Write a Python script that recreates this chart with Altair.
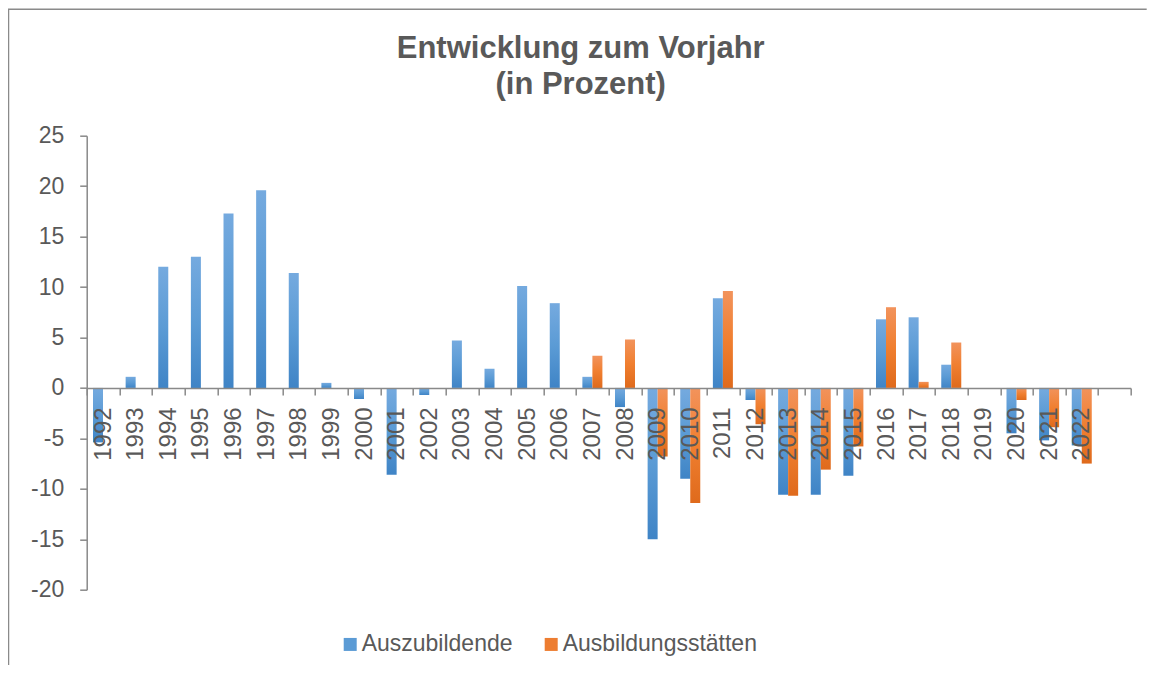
import altair as alt
import pandas as pd

years = [str(y) for y in range(1992, 2023)]
auszubildende = [-5.4, 1.1, 12.0, 13.0, 17.3, 19.6, 11.4, 0.5, -1.1, -8.6,
                 -0.7, 4.7, 1.9, 10.1, 8.4, 1.1, -1.9, -15.0, -9.0, 8.9,
                 -1.2, -10.6, -10.6, -8.7, 6.8, 7.0, 2.3, None, -4.5, -5.2, -5.7]
ausbildungsstaetten = [None] * 15 + [3.2, 4.8, -6.8, -11.4, 9.6,
                                     -3.6, -10.7, -8.1, -5.8, 8.0, 0.6, 4.5, None, -1.2, -3.9, -7.5]
series_names = ["Auszubildende", "Ausbildungsstätten"]
y_ticks = [-20, -15, -10, -5, 0, 5, 10, 15, 20, 25]

rows = []
for name, vals in zip(series_names, [auszubildende, ausbildungsstaetten]):
    for yr, v in zip(years, vals):
        if v is not None:
            rows.append({"Jahr": yr, "Reihe": name, "Wert": v})
df = pd.DataFrame(rows)

x_domain = years + [" "]
grad_blue = {"gradient": "linear", "x1": 0, "y1": 0, "x2": 0, "y2": 1,
             "stops": [{"offset": 0, "color": "#75AADF"}, {"offset": 0.5, "color": "#5B9BD5"},
                       {"offset": 1, "color": "#3F84C6"}]}
grad_orange = {"gradient": "linear", "x1": 0, "y1": 0, "x2": 0, "y2": 1,
               "stops": [{"offset": 0, "color": "#F2935C"}, {"offset": 0.5, "color": "#F07F30"},
                         {"offset": 1, "color": "#DF6A1C"}]}

axis_grey = "#898989"
text_grey = "#595959"
H = 454

x_enc = alt.X("Jahr:N", scale=alt.Scale(domain=x_domain, paddingInner=0, paddingOuter=0),
              axis=alt.Axis(title=None, orient="bottom", offset=-H * 20 / 45,
                            labelAngle=270, labelAlign="right", labelBaseline="middle",
                            labelPadding=12, labelFontSize=24, labelColor=text_grey,
                            tickBand="extent", tickSize=7, tickColor=axis_grey, tickWidth=1.5,
                            domainColor=axis_grey, domainWidth=1.5, zindex=1, labelOverlap=False))
xoff_enc = alt.XOffset("Reihe:N", scale=alt.Scale(domain=series_names, paddingOuter=0.63, paddingInner=0))
y_enc = alt.Y("Wert:Q", scale=alt.Scale(domain=[-20, 25], nice=False, zero=False),
              axis=alt.Axis(title=None, values=y_ticks, grid=False, tickSize=7, tickColor=axis_grey,
                            tickWidth=1.5, domainColor=axis_grey, domainWidth=1.5,
                            labelExpr="'' + datum.value",
                            labelFontSize=23, labelColor=text_grey, labelPadding=16))

bars = alt.Chart(df).mark_bar().encode(
    x=x_enc, xOffset=xoff_enc, y=y_enc,
    fill=alt.condition(alt.datum.Reihe == "Auszubildende", alt.value(grad_blue), alt.value(grad_orange)),
)

legend_layer = alt.Chart(df).mark_square(opacity=0).encode(
    x=alt.X("Jahr:N"), xOffset=alt.XOffset("Reihe:N"), y=alt.Y("Wert:Q"),
    color=alt.Color("Reihe:N", scale=alt.Scale(domain=series_names, range=["#5B9BD5", "#ED7D31"]),
                    legend=alt.Legend(title=None, orient="none", direction="horizontal",
                                      legendX=252, legendY=497, symbolType="square",
                                      symbolSize=169, symbolOpacity=1, symbolStrokeWidth=0,
                                      labelFontSize=23, labelColor=text_grey, labelOffset=0,
                                      labelLimit=400, columnPadding=27, padding=0)),
)

border = alt.Chart(pd.DataFrame({"k": [0]})).mark_rule(color="#8a8a8a", strokeWidth=1.5).encode(
    x=alt.value(-78.2), y=alt.value(-126.5), y2=alt.value(540))
border_top = alt.Chart(pd.DataFrame({"k": [0]})).mark_rule(color="#8a8a8a", strokeWidth=1.5).encode(
    x=alt.value(-79), x2=alt.value(1060), y=alt.value(-126.5))

chart = alt.layer(border, border_top, bars, legend_layer).properties(
    width=1044, height=H,
    title=alt.TitleParams(text=["Entwicklung zum Vorjahr", "(in Prozent)"], fontSize=31,
                          fontWeight="bold", color=text_grey, anchor="middle", frame="group",
                          dx=-28, dy=115, offset=22, lineHeight=36),
    autosize=alt.AutoSizeParams(type="none"),
    padding={"left": 78.7, "top": 127.7, "right": 16.3, "bottom": 75},
).configure(font="Liberation Sans").configure_view(stroke=None)

chart.save("out.html", embed_options={"renderer": "svg", "actions": False})
